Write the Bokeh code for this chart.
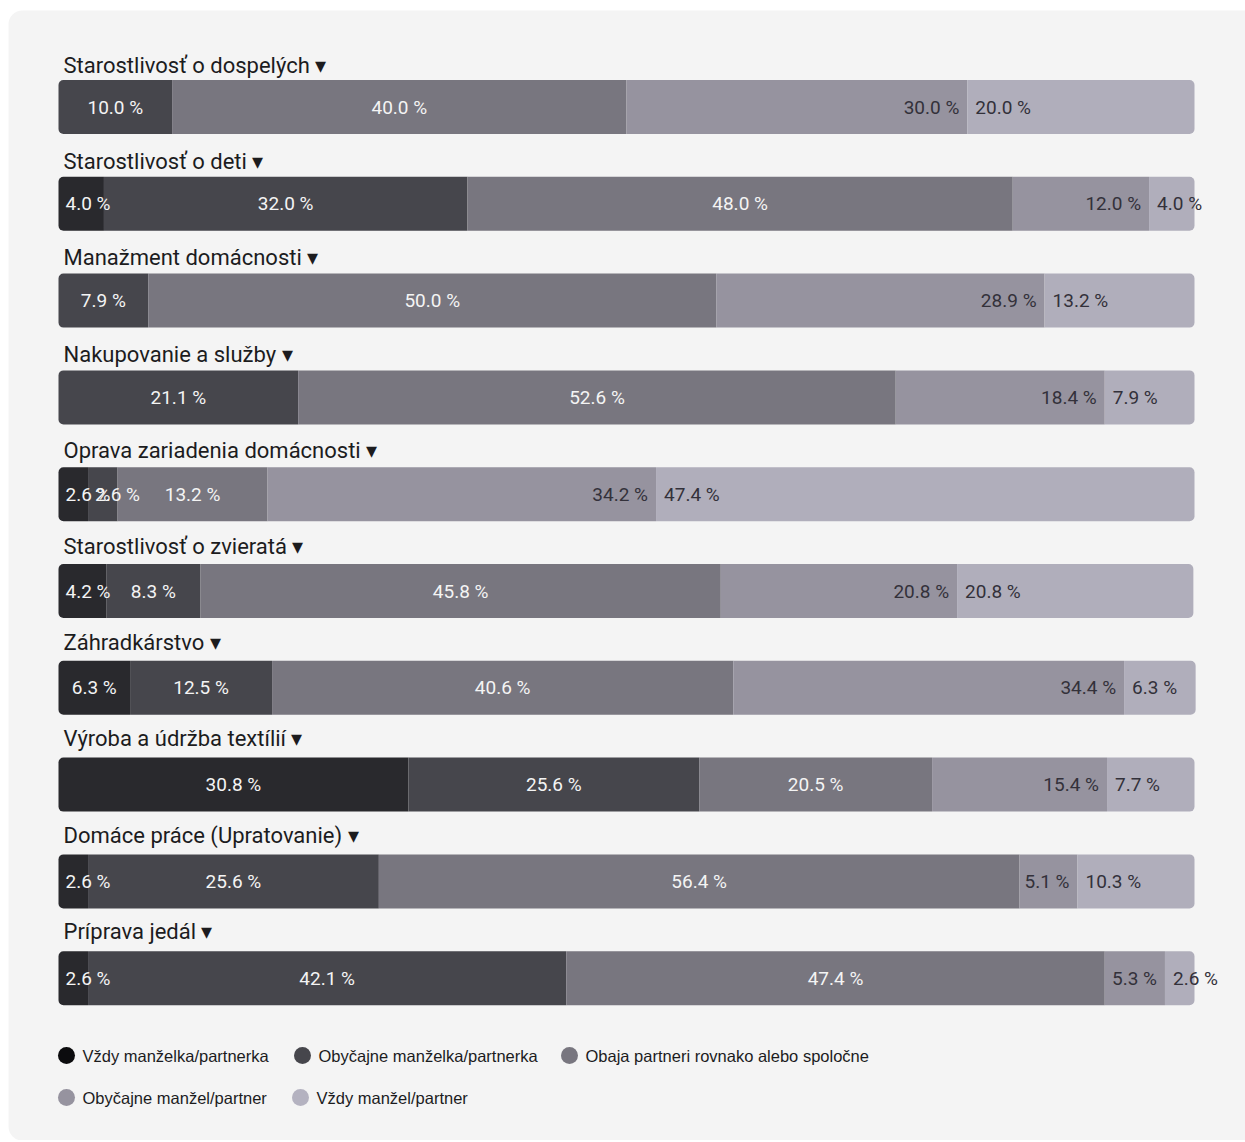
from bokeh.plotting import figure
from bokeh.models import ColumnDataSource, Range1d
from bokeh.core.properties import value
from bokeh.embed import file_html
from bokeh.resources import INLINE

categories = ["Starostlivosť o dospelých", "Starostlivosť o deti", "Manažment domácnosti",
              "Nakupovanie a služby", "Oprava zariadenia domácnosti", "Starostlivosť o zvieratá",
              "Záhradkárstvo", "Výroba a údržba textílií", "Domáce práce (Upratovanie)", "Príprava jedál"]
series_names = ["Vždy manželka/partnerka", "Obyčajne manželka/partnerka",
                "Obaja partneri rovnako alebo spoločne", "Obyčajne manžel/partner", "Vždy manžel/partner"]
always_wife     = [0.0, 4.0, 0.0, 0.0, 2.6, 4.2, 6.3, 30.8, 2.6, 2.6]
usually_wife    = [10.0, 32.0, 7.9, 21.1, 2.6, 8.3, 12.5, 25.6, 25.6, 42.1]
both_equal      = [40.0, 48.0, 50.0, 52.6, 13.2, 45.8, 40.6, 20.5, 56.4, 47.4]
usually_husband = [30.0, 12.0, 28.9, 18.4, 34.2, 20.8, 34.4, 15.4, 5.1, 5.3]
always_husband  = [20.0, 4.0, 13.2, 7.9, 47.4, 20.8, 6.3, 7.7, 10.3, 2.6]
series_values = [always_wife, usually_wife, both_equal, usually_husband, always_husband]

colors = ["#29292d", "#46464c", "#78767f", "#96939f", "#b0aebb"]
legend_colors = ["#0c0c0e", "#46464c", "#78767f", "#96939f", "#b4b2c0"]
label_colors = ["#f4f4f4", "#f4f4f4", "#f4f4f4", "#33313a", "#33313a"]

# ---- geometry (layout) ----
W, H = 1245, 1140
PX_PER_PCT = 11.36
X0 = 58.0          # px of 0 %
Y0 = 106.5         # px of first bar centre
ROW = 96.8         # px per row
BAR_H = 54.0 / ROW
TITLE_Y0 = 65.0    # px of first title centre
TITLE_ROW = 96.2   # px per title row

def fx(px):  # px -> data x
    return (px - X0) / PX_PER_PCT

def fy(py):  # px -> data y
    return (py - Y0) / ROW

p = figure(width=W, height=H, output_backend="svg", toolbar_location=None,
           x_range=Range1d(fx(0), fx(W)), y_range=Range1d(fy(H), fy(0)),
           min_border=0, background_fill_color="white", border_fill_color="white")
p.axis.visible = False
p.grid.visible = False
p.outline_line_color = None

# panel
p.quad(left=[fx(8)], right=[fx(W + 30)], top=[fy(10)], bottom=[fy(1140)],
       fill_color="#f4f4f4", line_color=None, border_radius=14)

n = len(categories)
rows = list(range(n))

# stacked segments
lefts = [0.0] * n
seg = []
for s, vals in enumerate(series_values):
    l = lefts[:]
    r = [a + b for a, b in zip(l, vals)]
    seg.append((l, r))
    lefts = r

R = 5
for s, vals in enumerate(series_values):
    l, r = seg[s]
    groups = {}
    for i in rows:
        if vals[i] <= 0:
            continue
        first = all(series_values[k][i] <= 0 for k in range(s))
        last = all(series_values[k][i] <= 0 for k in range(s + 1, 5))
        key = (R if first else 0, R if last else 0, R if last else 0, R if first else 0)
        groups.setdefault(key, []).append(i)
    for key, idx in groups.items():
        src = ColumnDataSource(dict(y=[i for i in idx], left=[l[i] for i in idx], right=[r[i] for i in idx]))
        p.hbar(y="y", left="left", right="right", height=BAR_H, source=src,
               fill_color=colors[s], line_color=None, border_radius=key)

# value labels
lab = dict(x=[], y=[], text=[], align=[], xoff=[], color=[])
for s, vals in enumerate(series_values):
    l, r = seg[s]
    for i in rows:
        v = vals[i]
        if v <= 0:
            continue
        txt = f"{v:.1f} %"
        if s <= 2:
            if v * PX_PER_PCT < 62:
                lab["x"].append(l[i]); lab["align"].append("left"); lab["xoff"].append(7)
            else:
                lab["x"].append((l[i] + r[i]) / 2); lab["align"].append("center"); lab["xoff"].append(0)
        elif s == 3:
            lab["x"].append(r[i]); lab["align"].append("right"); lab["xoff"].append(-8)
        else:
            lab["x"].append(l[i]); lab["align"].append("left"); lab["xoff"].append(8)
        lab["y"].append(i)
        lab["text"].append(txt)
        lab["color"].append(label_colors[s])
p.text(x="x", y="y", text="text", text_align="align", x_offset="xoff", text_color="color",
       text_baseline="middle", text_font=value("Roboto"), text_font_size="19px",
       source=ColumnDataSource(lab))

# category titles
tsrc = ColumnDataSource(dict(x=[0.0] * n, y=[fy(TITLE_Y0 + TITLE_ROW * i) for i in rows],
                             text=[c + " ▾" for c in categories]))
p.text(x="x", y="y", text="text", source=tsrc, x_offset=5, text_baseline="middle",
       text_font=value("Roboto"), text_font_size="22px", text_color="#1c1c1e")

# legend (manual)
leg_pos = [(66, 1055), (302, 1055), (569, 1055), (66, 1097), (300, 1097)]
lx = [fx(px) for px, py in leg_pos]
ly = [fy(py) for px, py in leg_pos]
p.scatter(x=lx, y=ly, size=17, marker="circle", fill_color=legend_colors, line_color=None)
p.text(x=lx, y=ly, text=series_names, x_offset=16, text_baseline="middle",
       text_font=value("Liberation Sans"), text_font_size="16.5px", text_color="#1c1c1e")

open("out.html", "w").write(file_html(p, INLINE))
